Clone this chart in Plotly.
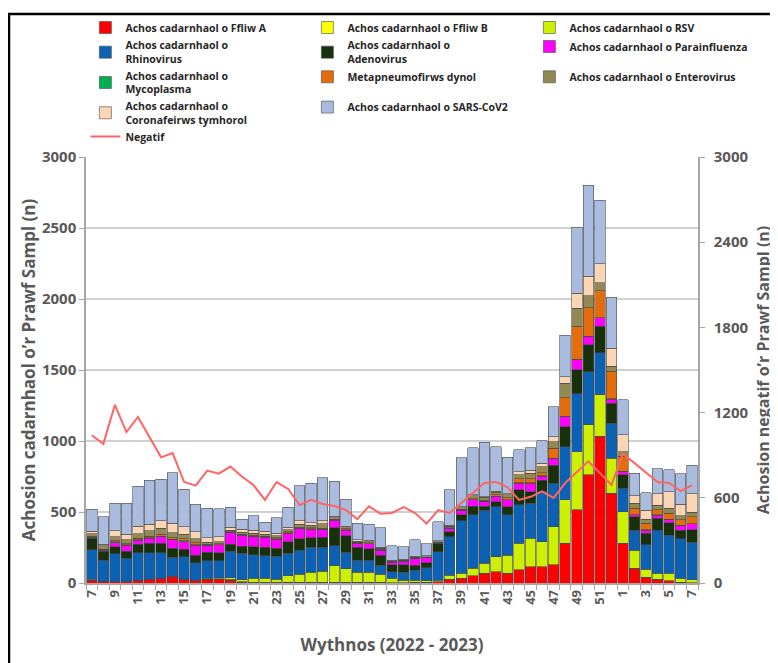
import plotly.graph_objects as go

weeks = [str(w) for w in range(7, 53)] + [str(w) for w in range(1, 8)]

flu_a = [20, 14, 10, 10, 20, 25, 30, 45, 25, 20, 25, 25, 20, 5, 3, 3, 3, 5, 5, 5, 5, 5, 5, 5, 5, 5, 3, 3, 5, 5,
         10, 25, 33, 50, 68, 80, 68, 92, 115, 115, 127, 280, 515, 761, 1032, 632, 280, 103, 40, 26, 16, 5, 3]
flu_b = [0, 0, 0, 0, 0, 0, 0, 0, 0, 0, 3, 5, 5, 3, 2, 2, 2, 0, 0, 0, 0, 0, 0, 0, 0, 0, 0, 0, 0, 0,
         0, 0, 0, 0, 0, 0, 0, 0, 0, 0, 0, 0, 0, 0, 0, 0, 0, 0, 0, 0, 0, 0, 0]
rsv = [5, 0, 0, 0, 0, 0, 0, 0, 0, 0, 5, 8, 12, 15, 30, 30, 20, 45, 55, 70, 78, 118, 94, 70, 70, 55, 30, 15, 15, 10,
       10, 30, 35, 54, 70, 106, 129, 188, 200, 176, 270, 305, 411, 352, 294, 247, 223, 129, 56, 42, 52, 30, 20]
rhino = [210, 148, 195, 165, 192, 188, 183, 136, 160, 122, 125, 120, 188, 188, 165, 157, 162, 160, 170, 176, 169,
         141, 117, 87, 87, 66, 47, 59, 70, 94, 200, 270, 371, 376, 376, 352, 282, 270, 247, 352, 305, 376, 407,
         376, 294, 247, 165, 141, 172, 305, 270, 275, 265]
adeno = [80, 60, 52, 47, 61, 66, 66, 63, 52, 54, 59, 55, 47, 47, 56, 59, 59, 82, 82, 66, 70, 125, 117, 89, 78, 70,
         47, 52, 35, 35, 59, 35, 40, 59, 28, 35, 59, 106, 82, 82, 129, 141, 169, 188, 188, 141, 94, 94, 82, 82, 87,
         63, 87]
para = [5, 10, 28, 45, 28, 35, 47, 59, 54, 70, 47, 55, 82, 78, 70, 70, 63, 59, 70, 63, 52, 52, 40, 28, 35, 35, 20,
        25, 47, 35, 5, 23, 35, 47, 30, 35, 47, 47, 59, 28, 47, 70, 70, 59, 59, 28, 23, 12, 23, 23, 23, 30, 42]
myco = [3, 2, 4, 3, 5, 5, 5, 5, 5, 5, 3, 3, 3, 3, 3, 3, 3, 3, 3, 3, 3, 3, 3, 3, 3, 3, 2, 2, 2, 2,
        2, 2, 2, 2, 2, 2, 2, 2, 2, 2, 2, 2, 2, 2, 2, 2, 2, 2, 2, 2, 2, 2, 2]
hmpv = [5, 5, 8, 7, 10, 12, 14, 12, 14, 12, 5, 5, 5, 5, 7, 5, 7, 7, 8, 7, 7, 5, 5, 5, 5, 5, 3, 3, 3, 3,
        3, 5, 5, 5, 10, 10, 15, 30, 30, 20, 70, 129, 235, 200, 188, 195, 106, 47, 47, 35, 42, 40, 47]
entero = [20, 25, 30, 27, 30, 37, 40, 35, 35, 30, 15, 15, 10, 15, 15, 15, 15, 15, 20, 15, 35, 12, 7, 7, 7, 5, 2,
          2, 5, 2, 2, 10, 10, 20, 20, 20, 20, 28, 38, 45, 45, 104, 127, 85, 57, 33, 33, 33, 26, 33, 33, 28, 33]
corona = [15, 10, 42, 40, 52, 47, 54, 66, 52, 47, 30, 35, 20, 20, 20, 20, 15, 15, 25, 20, 20, 10, 10, 10, 12, 8, 5,
          5, 5, 5, 5, 5, 5, 10, 5, 5, 5, 20, 20, 23, 35, 47, 106, 136, 136, 129, 118, 52, 66, 82, 118, 82, 129]
sars = [158, 191, 193, 219, 282, 310, 291, 357, 263, 195, 210, 196, 143, 70, 103, 63, 111, 144, 246, 279, 302,
        247, 193, 118, 113, 136, 104, 90, 116, 85, 136, 252, 346, 329, 383, 313, 258, 154, 158, 160, 211, 289,
        465, 642, 446, 360, 247, 160, 122, 176, 153, 216, 200]
negatif = [1040, 980, 1254, 1063, 1169, 1028, 885, 915, 711, 686, 792, 770, 820, 750, 690, 585, 711, 662, 549,
           585, 556, 542, 514, 450, 540, 488, 493, 535, 493, 418, 514, 493, 563, 634, 704, 712, 675, 585, 607,
           645, 599, 704, 778, 857, 775, 690, 910, 845, 775, 711, 704, 648, 690]

series = [
    ("Achos cadarnhaol o Ffliw A", flu_a, "#ff0000"),
    ("Achos cadarnhaol o Ffliw B", flu_b, "#ffff00"),
    ("Achos cadarnhaol o RSV", rsv, "#ccf000"),
    ("Achos cadarnhaol o<br>Rhinovirus", rhino, "#0b62b5"),
    ("Achos cadarnhaol o<br>Adenovirus", adeno, "#18300c"),
    ("Achos cadarnhaol o Parainfluenza", para, "#ff00ff"),
    ("Achos cadarnhaol o<br>Mycoplasma", myco, "#00b050"),
    ("Metapneumofirws dynol", hmpv, "#e46c0a"),
    ("Achos cadarnhaol o Enterovirus", entero, "#938953"),
    ("Achos cadarnhaol o<br>Coronafeirws tymhorol", corona, "#fcd5b4"),
    ("Achos cadarnhaol o SARS-CoV2", sars, "#a9bce0"),
]

x = list(range(len(weeks)))

fig = go.Figure()
for name, vals, col in series:
    fig.add_trace(go.Bar(x=x, y=vals, name=name, marker=dict(color=col, line=dict(color="#4a4a4a", width=0.6)),
                         legend="legend"))
fig.add_trace(go.Scatter(x=x, y=negatif, name="Negatif", mode="lines", line=dict(color="#ff6464", width=2),
                         yaxis="y2", legend="legend2"))

W, H = 778, 663
ml, mr, mt, mb = 78, 88, 149, 88
pw, ph = W - ml - mr, H - mt - mb

def px_x(p):
    return (p - ml) / pw

def px_y(p):
    return (H - mb - p) / ph

tickfont = dict(family="Open Sans", size=15, color="#595959", weight="bold")
titlefont = dict(family="Open Sans", size=17, color="#595959", weight="bold")
legfont = dict(family="Open Sans", size=10.5, color="#262626", weight="bold")

fig.update_layout(
    width=W, height=H,
    margin=dict(l=ml, r=mr, t=mt, b=mb, autoexpand=False),
    paper_bgcolor="white", plot_bgcolor="white",
    barmode="stack", bargap=0.09,
    font=dict(family="Open Sans", color="#404040"),
    xaxis=dict(
        range=[-0.5, len(weeks) - 0.5],
        tickmode="array", tickvals=x[::2], ticktext=weeks[::2],
        tickangle=-90, tickfont=dict(family="Open Sans", size=13, color="#595959", weight="bold"),
        ticks="", showline=True, linecolor="#a6a6a6", linewidth=1.5,
        minor=dict(tickmode="linear", tick0=0.5, dtick=1, ticks="outside", ticklen=5, tickcolor="#a6a6a6"),
        showgrid=False, zeroline=False,
        title=dict(text="Wythnos (2022 - 2023)", font=titlefont, standoff=35),
    ),
    yaxis=dict(
        range=[0, 3000], dtick=500, tickfont=tickfont,
        showgrid=True, gridcolor="#d0d0d0", gridwidth=2,
        showline=True, linecolor="#a6a6a6", linewidth=1.5,
        ticks="outside", ticklen=5, tickcolor="#a6a6a6", zeroline=False,
        title=dict(text="Achosion cadarnhaol o’r Prawf Sampl (n)", font=titlefont, standoff=2),
    ),
    yaxis2=dict(
        range=[0, 3000], dtick=600, overlaying="y", side="right", tickfont=tickfont,
        showgrid=False, showline=True, linecolor="#a6a6a6", linewidth=1.5,
        ticks="outside", ticklen=5, tickcolor="#a6a6a6", zeroline=False,
        ticklabelstandoff=6,
        title=dict(text="Achosion negatif o’r Prawf Sampl (n)", font=dict(family="Open Sans", size=16,
                   color="#595959", weight="bold"), standoff=10),
    ),
    legend=dict(
        orientation="h", x=-0.001, xanchor="left", y=px_y(5), yanchor="top",
        entrywidth=177, entrywidthmode="pixels", traceorder="normal",
        font=legfont, bgcolor="rgba(0,0,0,0)",
    ),
    legend2=dict(
        orientation="v", x=-0.001, xanchor="left", y=px_y(114), yanchor="top",
        font=legfont, bgcolor="rgba(0,0,0,0)",
    ),
    shapes=[dict(type="rect", xref="paper", yref="paper",
                 x0=px_x(1), x1=px_x(800), y0=px_y(670), y1=px_y(6),
                 line=dict(color="black", width=2.5), fillcolor="rgba(0,0,0,0)", layer="above")],
)

fig.write_html("out.html")
